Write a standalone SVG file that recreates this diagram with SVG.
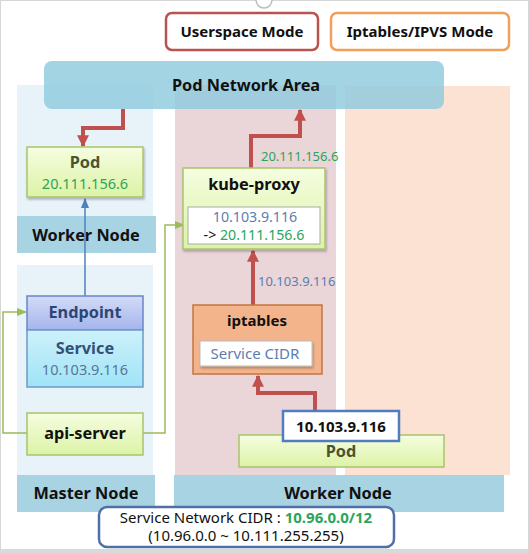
<svg xmlns="http://www.w3.org/2000/svg" width="529" height="554" viewBox="0 0 529 554">
<defs>
<style>
text{font-family:"Noto Sans","Liberation Sans",sans-serif;}
.b{font-weight:bold;fill:#111;}
.lbl{font-size:15px;}
.big{font-size:16.3px;}
.grn{fill:#2ba55a;}
.bl{fill:#5a7eb0;}
.red{stroke:#c0504d;stroke-width:4;fill:none;}
.gline{stroke:#9bbb59;stroke-width:1.5;fill:none;}
.gbox{fill:url(#gg);stroke:#a9c46c;stroke-width:1.5;}
.band{fill:#a7d3e2;}
</style>
<linearGradient id="gg" x1="0" y1="0" x2="0" y2="1"><stop offset="0" stop-color="#f5fde0"/><stop offset="1" stop-color="#dcf3a6"/></linearGradient>
<linearGradient id="ge" x1="0" y1="0" x2="0" y2="1"><stop offset="0" stop-color="#d3dbf7"/><stop offset="1" stop-color="#a5b5ec"/></linearGradient>
<linearGradient id="gs" x1="0" y1="0" x2="0" y2="1"><stop offset="0" stop-color="#cdf1fb"/><stop offset="1" stop-color="#9fe4f7"/></linearGradient>
<marker id="ar" viewBox="0 0 10 10" refX="9" refY="5" markerWidth="3" markerHeight="3" orient="auto"><path d="M0,0 L10,5 L0,10 z" fill="#c0504d"/></marker>
<marker id="ab" viewBox="0 0 10 10" refX="9" refY="5" markerWidth="7" markerHeight="7" orient="auto"><path d="M0,1 L10,5 L0,9 z" fill="#4f81bd"/></marker>
<marker id="ag" viewBox="0 0 10 10" refX="9" refY="5" markerWidth="7" markerHeight="7" orient="auto"><path d="M0,1 L10,5 L0,9 z" fill="#9bbb59"/></marker>
<filter id="sh" x="-10%" y="-10%" width="130%" height="140%"><feDropShadow dx="1" dy="2" stdDeviation="1" flood-color="#000" flood-opacity="0.25"/></filter>
</defs>
<rect x="0" y="0" width="529" height="554" fill="#fff"/>
<rect x="0.5" y="0.5" width="528" height="553" fill="none" stroke="#d6d6d6"/>
<rect x="0" y="549" width="529" height="5" fill="#d9d9d9"/>
<circle cx="264" cy="0" r="8" fill="#fff" stroke="#bbb" stroke-width="1.5"/>

<g id="areas">
<rect x="17" y="85" width="136" height="131" fill="#e8f2f9"/>
<rect x="17" y="265" width="136" height="210" fill="#e8f2f9"/>
<rect x="175" y="85" width="161" height="390" fill="#ead5d9"/>
<rect x="345" y="86" width="165" height="389" fill="#fbe2d3"/>
</g>

<g id="worker-node-top"><rect class="band" x="17" y="216" width="139" height="37"/><text class="b big" x="86" y="241" text-anchor="middle">Worker Node</text></g>
<g id="master-node"><rect class="band" x="17" y="475" width="138" height="37"/><text class="b big" x="86" y="499" text-anchor="middle">Master Node</text></g>
<g id="worker-node-bottom"><rect class="band" x="174" y="475" width="330" height="37"/><text class="b big" x="338" y="499" text-anchor="middle">Worker Node</text></g>

<g id="userspace-mode"><rect x="166" y="13" width="152" height="37" rx="6" fill="#fff" stroke="#b85450" stroke-width="2.5"/><text class="b lbl" x="242" y="37" text-anchor="middle">Userspace Mode</text></g>
<g id="iptables-mode"><rect x="331" y="13" width="178" height="37" rx="6" fill="#fff" stroke="#f0a05a" stroke-width="2.5"/><text class="b lbl" x="420" y="37" text-anchor="middle">Iptables/IPVS Mode</text></g>

<g id="pod-network-area"><rect x="44" y="61" width="400" height="48" rx="8" fill="#8fcbde" fill-opacity="0.82"/><text class="b big" x="246" y="91" text-anchor="middle">Pod Network Area</text></g>

<g id="connectors">
<path class="red" d="M123,109 V128 H83 V146" marker-end="url(#ar)"/>
<path class="red" d="M251,168 V136 H300 V110" marker-end="url(#ar)"/>
<path class="red" d="M253,305 V251" marker-end="url(#ar)"/>
<path class="red" d="M315,411 V393 H258 V376" marker-end="url(#ar)"/>
<path d="M85,296 V199" stroke="#4f81bd" stroke-width="1.5" fill="none" marker-end="url(#ab)"/>
<path class="gline" d="M27,433 H3 V312 H26" marker-end="url(#ag)"/>
<path class="gline" d="M143,433 H165 V225 H184" marker-end="url(#ag)"/>
<text class="grn" font-size="13" x="261" y="161">20.111.156.6</text>
<text class="bl" font-size="13" x="258" y="286">10.103.9.116</text>
</g>

<g id="pod-top"><rect class="gbox" x="27" y="147" width="116" height="50" filter="url(#sh)"/><text class="b big" x="85" y="168" text-anchor="middle" style="fill:#4a5530">Pod</text><text class="grn" font-size="14.5" x="85" y="189" text-anchor="middle">20.111.156.6</text></g>

<g id="endpoint"><rect x="27" y="296" width="116" height="34" fill="url(#ge)" stroke="#6b84c8" stroke-width="1.5"/><text class="b big" x="85" y="318" text-anchor="middle" style="fill:#2d4673">Endpoint</text></g>
<g id="service"><rect x="27" y="330" width="116" height="57" fill="url(#gs)" stroke="#6b9ac8" stroke-width="1.5"/><text class="b big" x="85" y="354" text-anchor="middle" style="fill:#34507a">Service</text><text font-size="14.5" x="85" y="375" text-anchor="middle" fill="#5b7592">10.103.9.116</text></g>

<g id="api-server"><rect class="gbox" x="27" y="413" width="116" height="42"/><text class="b big" x="85" y="439" text-anchor="middle">api-server</text></g>

<g id="kube-proxy"><rect class="gbox" x="183" y="168" width="142" height="81" filter="url(#sh)"/><text class="b big" x="254" y="190" text-anchor="middle">kube-proxy</text>
<rect x="188" y="207" width="132" height="37" fill="#fff" stroke="#aaa" stroke-width="1"/>
<text class="bl" font-size="14.2" x="255" y="222" text-anchor="middle">10.103.9.116</text>
<text font-size="14.2" x="254" y="240" text-anchor="middle"><tspan fill="#111">-&gt; </tspan><tspan class="grn">20.111.156.6</tspan></text></g>

<g id="iptables"><rect x="193" y="305" width="129" height="69" fill="#f3b48b" stroke="#c5763e" stroke-width="1.5"/><text class="b lbl" x="257" y="326" text-anchor="middle">iptables</text>
<rect x="200" y="341" width="112" height="25" fill="#fff" stroke="#bbb" stroke-width="1" filter="url(#sh)"/>
<text class="bl" font-size="15" x="255" y="359" text-anchor="middle">Service CIDR</text></g>

<g id="pod-bottom"><rect class="gbox" x="239" y="435" width="205" height="32"/><text class="b big" x="341" y="457" text-anchor="middle" style="fill:#4a5530">Pod</text></g>
<g id="svc-ip"><rect x="283" y="411" width="116" height="30" fill="#fff" stroke="#4f7dbd" stroke-width="2.5"/><text class="b" font-size="15" x="341" y="432" text-anchor="middle" fill="#3f6aae">10.103.9.116</text></g>

<g id="service-cidr"><rect x="99" y="507" width="295" height="40" rx="8" fill="#fff" stroke="#4f6fa8" stroke-width="2.5"/>
<text font-size="15" x="246" y="523" text-anchor="middle"><tspan fill="#111">Service Network CIDR : </tspan><tspan class="grn" font-weight="bold">10.96.0.0/12</tspan></text>
<text font-size="15" x="246" y="541" text-anchor="middle" fill="#111">(10.96.0.0 ~ 10.111.255.255)</text></g>
</svg>
